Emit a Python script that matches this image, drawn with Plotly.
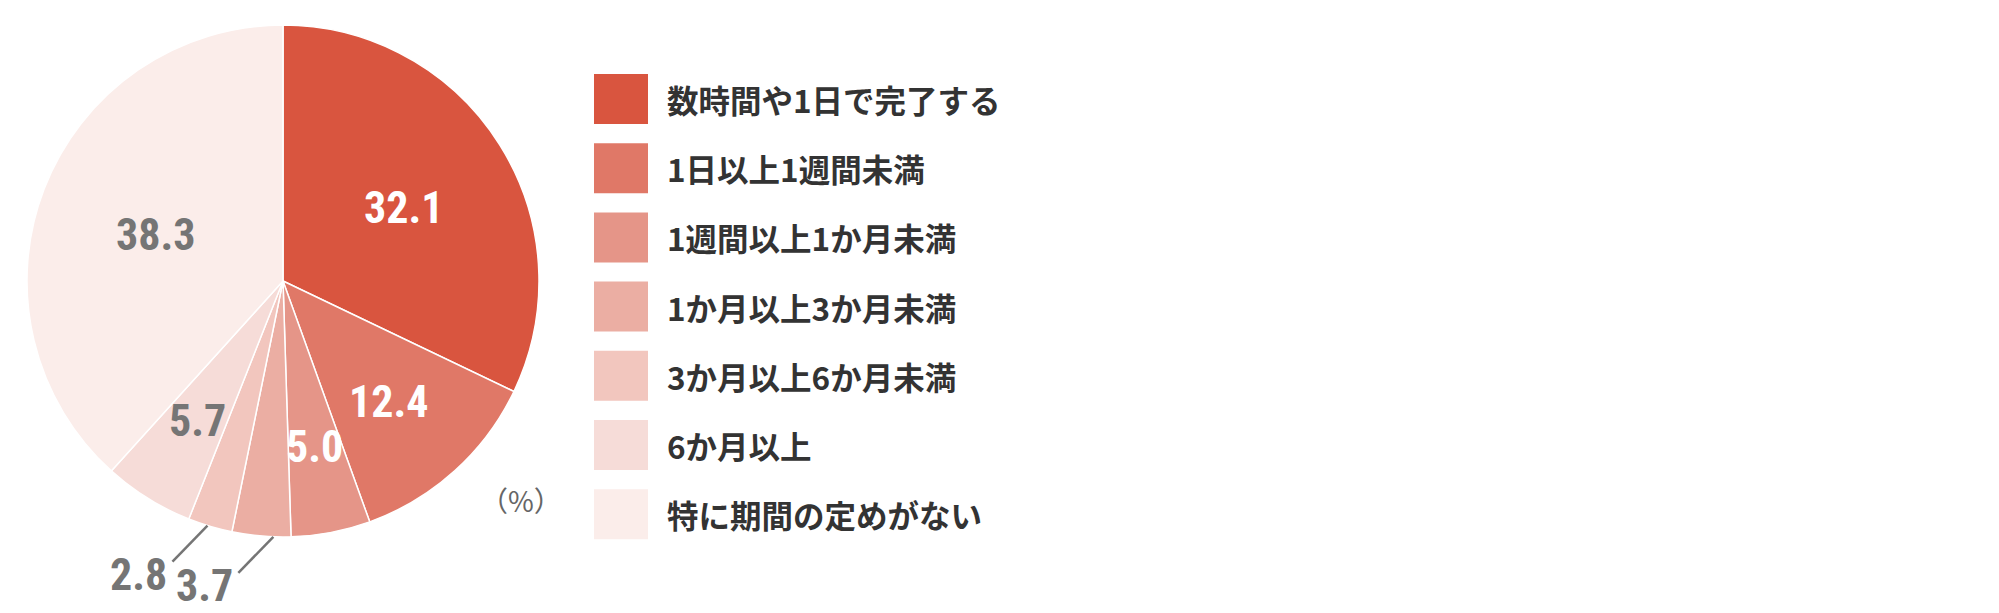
import math
import plotly.graph_objects as go

# ---- data ----
categories = ["数時間や1日で完了する", "1日以上1週間未満", "1週間以上1か月未満",
              "1か月以上3か月未満", "3か月以上6か月未満", "6か月以上", "特に期間の定めがない"]
values = [32.1, 12.4, 5.0, 3.7, 2.8, 5.7, 38.3]
value_labels = ["32.1", "12.4", "5.0", "3.7", "2.8", "5.7", "38.3"]
colors = ["#D9553F", "#E07867", "#E59588", "#EBAEA3", "#F2C6BE", "#F6DCD8", "#FBEDEA"]
label_colors = ["#FFFFFF", "#FFFFFF", "#FFFFFF", "#757575", "#757575", "#757575", "#757575"]
# radial position of each label as fraction of radius (None => outside with leader)
label_radius = [0.56, 0.62, 0.65, None, None, 0.63, 0.53]
# angular nudge (degrees) of outside leader lines
leader_nudge = [0, 0, 0, -2.7, 0.6, 0, 0]

W, H = 1999, 613
CX, CY, R = 283, 281, 256  # pie centre / radius in px

def px(x):
    return x / W

def py(y):
    return 1 - y / H

fig = go.Figure()
fig.add_trace(go.Pie(
    labels=categories, values=values, sort=False, direction="clockwise", rotation=0,
    marker=dict(colors=colors, line=dict(color="#FFFFFF", width=1.5)),
    textinfo="none", hoverinfo="skip", showlegend=False,
    domain=dict(x=[px(CX - R), px(CX + R)], y=[py(CY + R), py(CY - R)]),
))

annotations = []
shapes = []
total = sum(values)
cum = 0.0
num_font = "Liberation Sans Narrow, Roboto Condensed, DejaVu Sans Condensed, sans-serif"
NUM_SIZE = 44
for v, lab, col, fr, nd in zip(values, value_labels, label_colors, label_radius, leader_nudge):
    mid = (cum + v / 2) / total * 2 * math.pi
    cum += v
    if fr is not None:
        s, c = math.sin(mid), math.cos(mid)
        x = CX + fr * R * s
        y = CY - fr * R * c
        annotations.append(dict(x=px(x), y=py(y + 3), xref="paper", yref="paper", text=lab,
                                showarrow=False, xanchor="center", yanchor="middle",
                                font=dict(family=num_font, size=NUM_SIZE, color=col, weight="bold")))
    else:
        a = mid + math.radians(nd)
        s, c = math.sin(a), math.cos(a)
        x0 = CX + R * s
        y0 = CY - R * c
        x1, y1 = x0 - 35, y0 + 36
        shapes.append(dict(type="line", xref="paper", yref="paper",
                           x0=px(x0), y0=py(y0), x1=px(x1), y1=py(y1),
                           line=dict(color="#757575", width=2.5)))
        annotations.append(dict(x=px(x1 - 34), y=py(y1 + 13), xref="paper", yref="paper",
                                text=lab, showarrow=False, xanchor="center", yanchor="middle",
                                font=dict(family=num_font, size=NUM_SIZE, color=col, weight="bold")))

# unit note
annotations.append(dict(x=px(521), y=py(500), xref="paper", yref="paper", text="（%）",
                        showarrow=False, xanchor="center", yanchor="middle",
                        font=dict(family="Noto Sans CJK JP", size=28, color="#666666")))

# custom legend
LX0, LX1, LY0, LSTEP, LH = 594, 648, 99, 69.2, 50
for i, (cat, col) in enumerate(zip(categories, colors)):
    yc = LY0 + i * LSTEP
    shapes.append(dict(type="rect", xref="paper", yref="paper",
                       x0=px(LX0), x1=px(LX1), y0=py(yc - LH / 2), y1=py(yc + LH / 2),
                       fillcolor=col, line=dict(width=0)))
    annotations.append(dict(x=px(665), y=py(yc), xref="paper", yref="paper", text=cat,
                            showarrow=False, xanchor="left", yanchor="middle",
                            font=dict(family="Noto Sans CJK JP", size=31.5, color="#333333",
                                      weight="bold")))

fig.update_layout(
    width=W, height=H, margin=dict(l=0, r=0, t=0, b=0),
    paper_bgcolor="#FFFFFF", plot_bgcolor="#FFFFFF",
    annotations=annotations, shapes=shapes, showlegend=False,
)
fig.write_html("out.html", config={"displayModeBar": False},
               post_script="document.body.style.margin='0px';document.body.style.overflow='hidden';")
